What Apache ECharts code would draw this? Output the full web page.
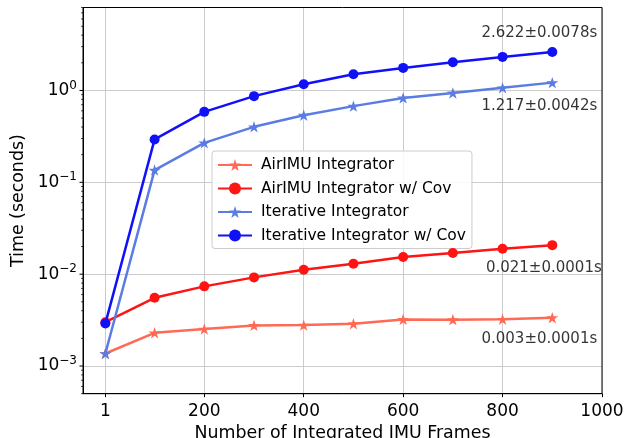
<!DOCTYPE html>
<html><head><meta charset="utf-8">
<script src="https://cdn.jsdelivr.net/npm/echarts@6/dist/echarts.min.js"></script>
<style>html,body{margin:0;padding:0;background:#fff}#c{width:631px;height:438px}</style>
</head><body><div id="c"></div>
<script>
const frames = [1, 100, 200, 300, 400, 500, 600, 700, 800, 900];
const airImu = [0.00137, 0.0023, 0.00253, 0.00277, 0.00279, 0.00289, 0.00322, 0.0032, 0.00323, 0.00336];
const airImuCov = [0.003, 0.00553, 0.00737, 0.00923, 0.01117, 0.01298, 0.01535, 0.0170, 0.0189, 0.0207];
const iterative = [0.00137, 0.136, 0.269, 0.402, 0.538, 0.675, 0.83, 0.94, 1.07, 1.217];
const iterativeCov = [0.0029, 0.293, 0.585, 0.867, 1.17, 1.50, 1.76, 2.03, 2.32, 2.622];
const seriesNames = ['AirIMU Integrator', 'AirIMU Integrator w/ Cov', 'Iterative Integrator', 'Iterative Integrator w/ Cov'];
const xTicks = [1, 200, 400, 600, 800, 1000];
const yMajorTicks = [0.001, 0.01, 0.1, 1];
const yMinorTicks = [0.0005, 0.0006, 0.0007, 0.0008, 0.0009,
  0.002, 0.003, 0.004, 0.005, 0.006, 0.007, 0.008, 0.009,
  0.02, 0.03, 0.04, 0.05, 0.06, 0.07, 0.08, 0.09,
  0.2, 0.3, 0.4, 0.5, 0.6, 0.7, 0.8, 0.9,
  2, 3, 4, 5, 6, 7, 8];
const annotationX = [874, 874, 883, 874];
const annotationY = [4.17, 0.675, 0.01174, 0.00195];
const annotationText = ['2.622±0.0078s', '1.217±0.0042s', '0.021±0.0001s', '0.003±0.0001s'];
const xMin = -44, xMax = 1000, yMin = 0.0005, yMax = 8;

const FONT = 'DejaVu Sans';
const STAR = 'path://M0,-1L0.2245,-0.309L0.951,-0.309L0.363,0.118L0.588,0.809L0,0.382L-0.588,0.809L-0.363,0.118L-0.951,-0.309L-0.2245,-0.309Z';
const colors = ['#ff6a55', '#ff1414', '#5a7ce3', '#1111f8'];
const symbols = [STAR, 'circle', STAR, 'circle'];
const values = [airImu, airImuCov, iterative, iterativeCov];

const chart = echarts.init(document.getElementById('c'), null, {renderer: 'canvas'});

const lineSeries = values.map((vals, i) => ({
  name: seriesNames[i],
  type: 'line',
  data: frames.map((f, j) => [f, vals[j]]),
  symbol: symbols[i],
  symbolSize: symbols[i] === 'circle' ? 10 : 12,
  symbolKeepAspect: true,
  showAllSymbol: true,
  lineStyle: {color: colors[i], width: 2.5},
  itemStyle: {color: colors[i]},
  emphasis: {disabled: true},
  animation: false,
  z: 3 + i
}));

const tickData = yMajorTicks.map(v => [xMin, v, 3.5]).concat(yMinorTicks.map(v => [xMin, v, 2]));

const option = {
  backgroundColor: '#fff',
  animation: false,
  grid: {left: 83, right: 29, top: 7.5, bottom: 44.3, outerBoundsMode: 'none', containLabel: false,
    show: true, borderColor: '#000', borderWidth: 1, backgroundColor: 'transparent', z: 10},
  xAxis: {
    type: 'value', min: xMin, max: xMax,
    name: 'Number of Integrated IMU Frames', nameLocation: 'middle', nameGap: 27,
    nameTextStyle: {fontFamily: FONT, fontSize: 17.4, color: '#000'},
    axisLine: {show: true, onZero: false, lineStyle: {color: '#000', width: 1}},
    axisTick: {show: true, customValues: xTicks, length: 3.5, lineStyle: {color: '#000', width: 1}},
    axisLabel: {customValues: xTicks, formatter: v => String(v), fontFamily: FONT, fontSize: 17, color: '#000', margin: 9},
    splitLine: {show: true, lineStyle: {color: '#cccccc', width: 1}}
  },
  yAxis: {
    type: 'log', logBase: 10, min: yMin, max: yMax,
    name: 'Time (seconds)', nameLocation: 'middle', nameGap: 53,
    nameTextStyle: {fontFamily: FONT, fontSize: 17.4, color: '#000'},
    axisLine: {show: true, onZero: false, lineStyle: {color: '#000', width: 1}},
    axisTick: {show: false},
    axisLabel: {
      margin: 6,
      formatter: v => {
        const l = Math.log10(v);
        const e = Math.round(l);
        if (Math.abs(l - e) > 1e-6) return '';
        return '{b|10}{s|' + (e < 0 ? '\u2212' : '') + Math.abs(e) + '}';
      },
      rich: {
        b: {fontFamily: FONT, fontSize: 17, color: '#000', lineHeight: 22},
        s: {fontFamily: FONT, fontSize: 12, color: '#000', lineHeight: 12, verticalAlign: 'top'}
      }
    },
    splitLine: {show: true, lineStyle: {color: '#cccccc', width: 1}}
  },
  legend: {
    data: seriesNames,
    orient: 'vertical', left: 212, top: 151,
    itemWidth: 34, itemHeight: 15, itemGap: 7.5,
    padding: [6, 6, 5, 5],
    backgroundColor: 'rgba(255,255,255,0.85)', borderColor: '#cccccc', borderWidth: 1, borderRadius: 3,
    textStyle: {fontFamily: FONT, fontSize: 15.5, color: '#000', lineHeight: 16, padding: [0, 0, 0, 4]},
    selectedMode: false
  },
  series: lineSeries.concat([
    {
      type: 'custom', name: 'yticks', clip: false, silent: true, z: 11,
      data: tickData,
      renderItem: (params, api) => {
        const p = api.coord([api.value(0), api.value(1)]);
        const len = api.value(2);
        return {type: 'line', shape: {x1: p[0] - len, y1: p[1], x2: p[0], y2: p[1]},
          style: {stroke: '#000', lineWidth: len > 3 ? 1 : 0.7}};
      }
    },
    {
      type: 'scatter', name: 'annotations', silent: true, symbolSize: 1,
      itemStyle: {color: 'rgba(0,0,0,0)'},
      data: annotationX.map((x, i) => ({value: [x, annotationY[i]], name: annotationText[i]})),
      label: {show: true, position: 'inside', formatter: '{b}', fontFamily: FONT, fontSize: 15, color: '#000', textBorderWidth: 0},
      z: 12
    }
  ])
};
chart.setOption(option);
</script></body></html>
